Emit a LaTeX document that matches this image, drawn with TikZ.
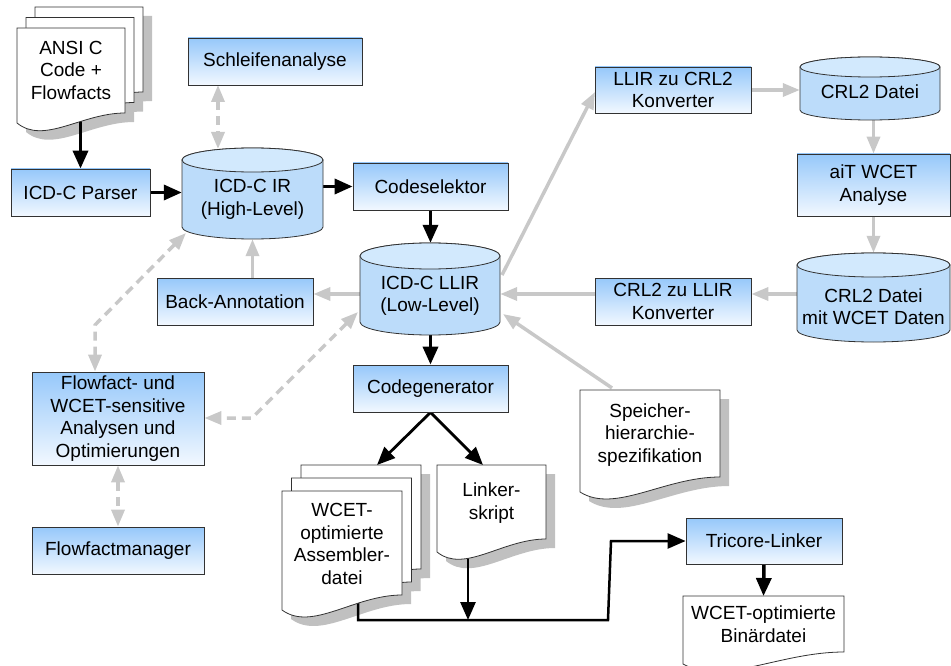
\documentclass[tikz,border=0pt]{standalone}
\usepackage{fontspec}
\setmainfont{Liberation Sans}
\usetikzlibrary{arrows.meta,calc}
\pgfdeclarelayer{shadowlayer}
\pgfdeclarelayer{linelayer}
\pgfsetlayers{shadowlayer,linelayer,main}

\definecolor{boxtop}{RGB}{150,200,250}
\definecolor{boxbot}{RGB}{242,248,255}
\definecolor{cylbody}{RGB}{188,220,250}
\definecolor{cyltop}{RGB}{210,233,253}
\definecolor{flowgray}{RGB}{200,200,200}
\definecolor{shadowgray}{RGB}{192,192,192}
\definecolor{edgegray}{RGB}{50,50,50}

\tikzset{
  lbl/.style={font=\fontsize{19}{22.5}\selectfont, align=center, inner sep=0pt},
  box/.style={lbl, draw=edgegray, line width=0.8pt, top color=boxtop, bottom color=boxbot},
  page/.style={fill=white, draw=edgegray, line width=0.8pt},
  pageshadow/.style={fill=shadowgray},
  blk/.style={line width=3.5pt, -{Triangle[length=18pt,width=15pt]}},
  blkthin/.style={line width=2.8pt, -{Triangle[length=18pt,width=15pt]}},
  joinline/.style={line width=2.5pt, line join=miter, -{Triangle[length=18pt,width=15pt]}},
  gry/.style={color=flowgray, line width=3.5pt, -{Triangle[length=17pt,width=13pt]}},
  grydd/.style={color=flowgray, line width=3.5pt, dash pattern=on 9pt off 6pt,
    {Triangle[length=17pt,width=13pt]}-{Triangle[length=17pt,width=13pt]}},
}

% rectangular process box: name, x1, y1, x2, y2, text
\newcommand\flowbox[6]{%
  \node[box, minimum width={(#4-#2)*1pt}, minimum height={(#5-#3)*1pt}]
    (#1) at ({(#2+#4)/2},{(#3+#5)/2}) {#6};}

% database cylinder: name, x1, y1, x2, y2, ry, text, text shift
\newcommand\dbcyl[8]{%
  \pgfmathsetmacro\cx{(#2+#4)/2}%
  \pgfmathsetmacro\cy{(#3+#5)/2}%
  \pgfmathsetmacro\rx{(#4-#2)/2}%
  \path[fill=cylbody, draw=edgegray, line width=0.8pt]
    (#2,#3+#6) -- (#2,#5-#6)
    arc[start angle=180, end angle=0, x radius=\rx, y radius=#6]
    -- (#4,#3+#6)
    arc[start angle=0, end angle=-180, x radius=\rx, y radius=#6] -- cycle;
  \path[fill=cyltop, draw=edgegray, line width=0.8pt]
    (\cx,#3+#6) ellipse[x radius=\rx, y radius=#6];
  \node[inner sep=0pt, minimum width={(#4-#2)*1pt}, minimum height={(#5-#3)*1pt}]
    (#1) at (\cx,\cy) {};
  \node[lbl] (#1text) at (\cx,\cy+#8) {#7};}

% one document page: style, x, y, w, h, d (rise of the wavy edge at the right)
\newcommand\docpage[6]{%
  \path[#1] (#2,#3) -- (#2+#4,#3) -- (#2+#4,#3+#5-#6)
    .. controls (#2+0.6*#4,#3+#5-#6) and (#2+0.25*#4,#3+#5+22) .. (#2,#3+#5) -- cycle;}

% single document with drop shadow
\newcommand\docshadowed[5]{%
  \begin{pgfonlayer}{shadowlayer}
    \docpage{pageshadow}{#1+9}{#2+9}{#3}{#4}{#5}
  \end{pgfonlayer}
  \docpage{page}{#1}{#2}{#3}{#4}{#5}}

% stack of three pages: x, y, w, h, d, dx, dy (offset of each page behind)
\newcommand\docstack[7]{%
  \begin{pgfonlayer}{shadowlayer}
    \foreach \k in {0,1,2}{%
      \pgfmathsetmacro\px{#1+\k*(#6)+9}\pgfmathsetmacro\py{#2+\k*(#7)+9}%
      \docpage{pageshadow}{\px}{\py}{#3}{#4}{#5}}
  \end{pgfonlayer}
  \foreach \k in {2,1,0}{%
    \pgfmathsetmacro\px{#1+\k*(#6)}\pgfmathsetmacro\py{#2+\k*(#7)}%
    \docpage{page}{\px}{\py}{#3}{#4}{#5}}}

\begin{document}
\begin{tikzpicture}[x=1pt, y=-1pt]
\useasboundingbox (0,0) rectangle (951,666);

% ---- documents ----
\docstack{17}{28}{108}{95}{10}{9}{-10.5}
\node[lbl] (ansi) at (71,70) {ANSI C\\Code +\\Flowfacts};

\docstack{282}{491}{120}{119}{15}{9.5}{-13}
\node[lbl] (asm) at (342,544) {WCET-\\optimierte\\Assembler-\\datei};

\docshadowed{437}{465}{109}{87}{13}
\node[lbl] (linker) at (491.5,503) {Linker-\\skript};

\docshadowed{580}{390}{140}{102}{15}
\node[lbl] (speicher) at (650,435) {Speicher-\\hierarchie-\\spezifikation};

\docpage{page}{683}{596}{161}{68}{12}
\node[lbl] (binaer) at (763.5,624) {WCET-optimierte\\Binärdatei};

% ---- process boxes ----
\flowbox{schleife}{188}{38}{362}{85}{Schleifenanalyse}
\flowbox{parser}{11}{169}{150}{216}{ICD-C Parser}
\flowbox{codesel}{353}{163}{508}{210}{Codeselektor}
\flowbox{codegen}{353}{365}{508}{412}{Codegenerator}
\flowbox{backann}{157}{278}{313}{325}{Back-Annotation}
\flowbox{flowopt}{32}{372}{204}{465}{Flowfact- und\\WCET-sensitive\\Analysen und\\Optimierungen}
\flowbox{ffm}{32}{527}{204}{574}{Flowfactmanager}
\flowbox{tricore}{686}{518}{842}{564}{Tricore-Linker}
\flowbox{llirtocrl}{595}{67}{751}{113}{LLIR zu CRL2\\Konverter}
\flowbox{crltollir}{595}{278}{751}{325}{CRL2 zu LLIR\\Konverter}
\flowbox{ait}{797}{154}{950}{216}{aiT WCET\\Analyse}

% ---- data stores ----
\dbcyl{ir}{182}{148}{323}{239}{12}{ICD-C IR\\(High-Level)}{6}
\dbcyl{llir}{360}{243}{500}{335}{13}{ICD-C LLIR\\(Low-Level)}{7}
\dbcyl{crl}{800}{57}{940}{120}{10}{CRL2 Datei}{3}
\dbcyl{crlw}{797}{253}{950}{342}{12}{CRL2 Datei\\mit WCET Daten}{9}

% ---- connector end points ----
\coordinate (ansiout) at (80.5,112);
\coordinate (asmin) at (377,465);
\coordinate (linkin) at (483,465);
\coordinate (linkout) at (468,545);
\coordinate (joinpt) at (468,620);
\coordinate (asmout) at (358,598);
\coordinate (turnA) at (608,620);
\coordinate (turnB) at (611,541);
\coordinate (bintop) at (763.5,596);
\coordinate (schlbot) at (218,85);
\coordinate (irtop) at (218,149);
\coordinate (irlow) at (186,233);
\coordinate (ffbendA) at (95,325);
\coordinate (llirlow) at (358,312);
\coordinate (ffbendB) at (252,418);
\coordinate (arrowrow) at (0,294);
\coordinate (llirup) at (502,275);
\coordinate (crlin) at (595,92);
\coordinate (spout) at (612,388);
\coordinate (llirin) at (503,314);

% ---- connectors ----
\begin{pgfonlayer}{linelayer}
  \draw[blk] (ansiout) -- (parser.north);
  \draw[blk] (parser.east) -- (parser.east -| ir.west);
  \draw[blk] (ir.east |- codesel.west) -- (codesel.west);
  \draw[blk] (codesel.south) -- (codesel.south |- llir.north);
  \draw[blk] (codegen.north |- llir.south) -- (codegen.north);
  \draw[blkthin] (codegen.south) -- (asmin);
  \draw[blkthin] (codegen.south) -- (linkin);
  \draw[blkthin] (linkout) -- (joinpt);
  \draw[joinline] (asmout) |- (turnA) -- (turnB) -- (tricore.west);
  \draw[blk] (tricore.south) -- (bintop);

  \draw[grydd] (schlbot) -- (irtop);
  \draw[grydd] (irlow) -- (ffbendA) -- (ffbendA |- flowopt.north);
  \draw[grydd] (llirlow) -- (ffbendB) -- (flowopt.east |- ffbendB);
  \draw[grydd] (flowopt.south) -- (ffm.north);
  \draw[gry] (backann.north -| ir.south) -- (ir.south);
  \draw[gry] (llir.west |- arrowrow) -- (backann.east |- arrowrow);
  \draw[gry] (llirup) -- (crlin);
  \draw[gry] (llirtocrl.east) -- (llirtocrl.east -| crl.west);
  \draw[gry] (ait.north |- crl.south) -- (ait.north);
  \draw[gry] (ait.south) -- (ait.south |- crlw.north);
  \draw[gry] (crlw.west |- arrowrow) -- (crltollir.east |- arrowrow);
  \draw[gry] (crltollir.west |- arrowrow) -- (llir.east |- arrowrow);
  \draw[gry] (spout) -- (llirin);
\end{pgfonlayer}
\end{tikzpicture}
\end{document}
